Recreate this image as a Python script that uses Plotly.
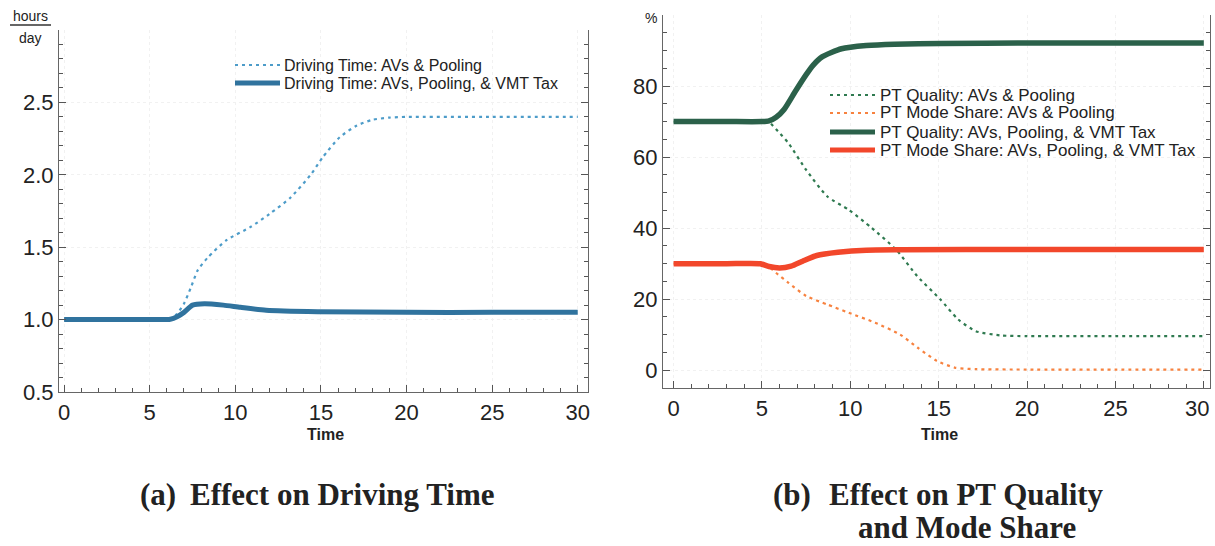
import plotly.graph_objects as go

# ---------------- data ----------------
# (a) Driving time (hours/day)
t_drive_pool = [0, 4, 5.5, 6.2, 6.6, 7.0, 7.4, 7.8, 8.4, 9.5, 10.9, 12.0, 13.2, 14.4, 15.1, 16.1, 17.1, 18.0, 19.0, 20.0, 25, 30]
v_drive_pool = [1.0, 1.0, 1.0, 1.005, 1.04, 1.11, 1.22, 1.34, 1.43, 1.55, 1.64, 1.73, 1.84, 2.00, 2.12, 2.26, 2.34, 2.38, 2.395, 2.40, 2.40, 2.40]
t_drive_tax = [0, 4, 5.5, 6.2, 6.6, 7.0, 7.5, 8.2, 9.3, 10.3, 11.8, 14.8, 20, 25, 30]
v_drive_tax = [1.0, 1.0, 1.0, 1.003, 1.02, 1.05, 1.10, 1.11, 1.10, 1.085, 1.065, 1.055, 1.05, 1.05, 1.05]

# (b) PT quality and mode share (%)
t_q_pool = [0, 3, 5.0, 5.4, 5.9, 6.5, 7.5, 8.7, 9.9, 11.2, 12.6, 13.8, 15.1, 16.1, 17.1, 18.5, 20, 25, 30]
v_q_pool = [70, 70, 70, 69.8, 67.3, 63.9, 56.4, 48.9, 45.2, 40.1, 33.9, 26.4, 19.9, 14.3, 11.0, 9.8, 9.6, 9.6, 9.6]
t_ms_pool = [0, 3, 4.9, 5.4, 5.9, 6.5, 7.5, 8.7, 9.9, 11.4, 12.8, 13.8, 14.9, 15.9, 17.1, 20, 25, 30]
v_ms_pool = [30, 30, 30, 29.0, 27.0, 24.6, 20.9, 18.5, 16.2, 13.4, 10.1, 6.4, 2.6, 0.75, 0.3, 0.2, 0.2, 0.2]
t_q_tax = [0, 3, 5.0, 5.4, 5.8, 6.25, 6.9, 7.5, 7.9, 8.4, 9.5, 10.9, 12.5, 15.1, 20, 25, 30]
v_q_tax = [70, 70, 70, 70.2, 71.2, 73.4, 78.6, 83.2, 85.9, 88.2, 90.5, 91.4, 91.8, 92.0, 92.1, 92.1, 92.1]
t_ms_tax = [0, 3, 4.9, 5.4, 6.0, 6.65, 7.3, 8.1, 9.3, 10.9, 12.9, 20, 25, 30]
v_ms_tax = [30, 30, 30, 29.2, 28.8, 29.3, 30.7, 32.3, 33.2, 33.8, 33.9, 34, 34, 34]

x_ticks = [0, 5, 10, 15, 20, 25, 30]
x1_text = ["0", "5", "10", "15", "20", "25", "30"]
x2_text = ["0", "5", "10", "15", "20", "25", ""]
y1_ticks = [0.5, 1.0, 1.5, 2.0, 2.5, 3.0]
y1_text = ["0.5", "1.0", "1.5", "2.0", "2.5", ""]
y2_ticks = [0, 20, 40, 60, 80, 100]
y2_text = ["0", "20", "40", "60", "80", ""]

W, H = 1215, 546
FONT = "Liberation Sans, Arial, sans-serif"
SERIF = "Liberation Serif, Times New Roman, serif"

C_DRV_POOL, C_DRV_TAX = "#4d9cc9", "#30739e"
C_Q_POOL, C_MS_POOL = "#2f7a50", "#f7823f"
C_Q_TAX, C_MS_TAX = "#2b614a", "#f2472b"
DOT = "3px,4px"

fig = go.Figure()

def add(t, v, name, color, width, dash, xa, ya):
    fig.add_trace(go.Scatter(x=t, y=v, mode="lines", name=name, showlegend=False,
                             line=dict(color=color, width=width, dash=dash, shape="spline", smoothing=0.6),
                             xaxis=xa, yaxis=ya))

add(t_drive_pool, v_drive_pool, "Driving Time: AVs & Pooling", C_DRV_POOL, 2.2, DOT, "x", "y")
add(t_drive_tax, v_drive_tax, "Driving Time: AVs, Pooling, & VMT Tax", C_DRV_TAX, 5, "solid", "x", "y")
add(t_q_pool, v_q_pool, "PT Quality: AVs & Pooling", C_Q_POOL, 2.2, DOT, "x2", "y2")
add(t_ms_pool, v_ms_pool, "PT Mode Share: AVs & Pooling", C_MS_POOL, 2.2, DOT, "x2", "y2")
add(t_q_tax, v_q_tax, "PT Quality: AVs, Pooling, & VMT Tax", C_Q_TAX, 5.5, "solid", "x2", "y2")
add(t_ms_tax, v_ms_tax, "PT Mode Share: AVs, Pooling, & VMT Tax", C_MS_TAX, 5.5, "solid", "x2", "y2")

def px_x(p):
    return p / W

def px_y(p):
    return 1 - p / H

axis_common = dict(
    showline=True, linecolor="#666", linewidth=1.2,
    ticks="inside", ticklen=7, tickwidth=1.2, tickcolor="#555",
    tickfont=dict(family=FONT, size=22, color="#222"),
    showgrid=True, gridcolor="#f1f1f1", griddash="dot", gridwidth=1,
    zeroline=False, fixedrange=True, automargin=False,
)

def minor(dt, t0):
    return dict(dtick=dt, tick0=t0, ticks="inside", ticklen=4, tickcolor="#555", showgrid=False)

fig.update_layout(
    width=W, height=H,
    margin=dict(l=0, r=0, t=0, b=0, pad=0),
    paper_bgcolor="white", plot_bgcolor="white",
    showlegend=False,
    xaxis=dict(domain=[px_x(59), px_x(588)], range=[-0.3, 30.6], tickvals=x_ticks, ticktext=x1_text,
               minor=minor(1, 0), anchor="y", mirror=False, **axis_common),
    yaxis=dict(domain=[px_y(392), px_y(30)], range=[0.5, 3.0], tickvals=y1_ticks, ticktext=y1_text,
               minor=minor(0.1, 0.5), anchor="x", mirror="ticks", **axis_common),
    xaxis2=dict(domain=[px_x(663), px_x(1210)], range=[-0.6, 30.35], tickvals=x_ticks, ticktext=x2_text,
                minor=minor(1, 0), anchor="y2", mirror=False, **axis_common),
    yaxis2=dict(domain=[px_y(388), px_y(15)], range=[-5, 100], tickvals=y2_ticks, ticktext=y2_text,
                minor=minor(5, 0), anchor="x2", mirror="ticks", **axis_common),
)

ann = []
shapes = []

def text(x, y, s, size, family=FONT, xanchor="center"):
    ann.append(dict(x=px_x(x), y=px_y(y), xref="paper", yref="paper", text=s, showarrow=False,
                    xanchor=xanchor, yanchor="middle", font=dict(family=family, size=size, color="#222")))

# last tick label of panel (b), kept inside the page edge
text(1197, 408, "30", 22)

# axis titles
text(325, 435, "<b>Time</b>", 16)
text(939, 434, "<b>Time</b>", 16)
# units
text(30, 16, "hours", 14)
text(30, 38, "day", 14)
text(651, 18, "%", 14)
shapes.append(dict(type="line", xref="paper", yref="paper", x0=px_x(10), x1=px_x(51),
                   y0=px_y(25), y1=px_y(25), line=dict(color="#333", width=1.3)))

# legends (drawn as keys + labels)
legend_items = [
    (235, 280, 282, 65, "Driving Time: AVs & Pooling", C_DRV_POOL, 2.2, DOT, 16),
    (235, 280, 282, 83, "Driving Time: AVs, Pooling, & VMT Tax", C_DRV_TAX, 5, "solid", 16),
    (830, 875, 878, 95, "PT Quality: AVs & Pooling", C_Q_POOL, 2.2, DOT, 17),
    (830, 875, 878, 113, "PT Mode Share: AVs & Pooling", C_MS_POOL, 2.2, DOT, 17),
    (830, 875, 878, 132, "PT Quality: AVs, Pooling, & VMT Tax", C_Q_TAX, 5, "solid", 17),
    (830, 875, 878, 150, "PT Mode Share: AVs, Pooling, & VMT Tax", C_MS_TAX, 5, "solid", 17),
]
for x0, x1, tx, y, label, col, w, d, fs in legend_items:
    shapes.append(dict(type="line", xref="paper", yref="paper", x0=px_x(x0), x1=px_x(x1),
                       y0=px_y(y), y1=px_y(y), line=dict(color=col, width=w, dash=d)))
    text(tx, y, label, fs, xanchor="left")

# captions
text(138, 494, "<b>(a)</b>", 31, SERIF, "left")
text(188, 494, "<b>Effect on Driving Time</b>", 31, SERIF, "left")
text(771, 494, "<b>(b)</b>", 31, SERIF, "left")
text(967, 494, "<b>Effect on PT Quality</b>", 31, SERIF, "center")
text(967, 527, "<b>and Mode Share</b>", 31, SERIF, "center")

fig.update_layout(annotations=ann, shapes=shapes)

fig.write_html("out.html")
